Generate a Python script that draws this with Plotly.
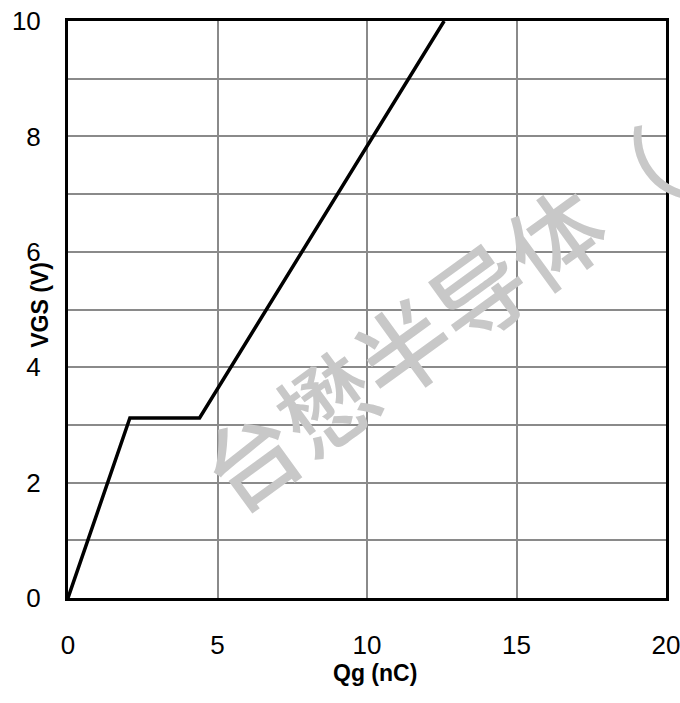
import plotly.graph_objects as go

qg = [0, 2.07, 4.4, 12.58]
vgs = [0, 3.12, 3.12, 10]
x_ticks = [0, 5, 10, 15, 20]
y_ticks = [0, 2, 4, 6, 8, 10]

FONT = "Liberation Sans, Arial, sans-serif"

fig = go.Figure()
fig.add_trace(go.Scatter(x=qg, y=vgs, mode="lines",
                         line=dict(color="black", width=3.5), showlegend=False))

fig.update_layout(
    width=680, height=703,
    margin=dict(l=68, r=14, t=21, b=105),
    plot_bgcolor="white", paper_bgcolor="white",
    font=dict(family=FONT, color="black", size=26),
    xaxis=dict(range=[0, 20], tickvals=x_ticks, ticktext=[str(v) for v in x_ticks],
               showgrid=True, gridcolor="#8a8a8a", gridwidth=1.6,
               showline=True, linecolor="black", linewidth=3, mirror=True,
               ticks="", ticklabelstandoff=22, zeroline=False, automargin=False,
               ticklabeloverflow="allow",
               tickfont=dict(size=26, family=FONT)),
    yaxis=dict(range=[0, 10], tickvals=y_ticks, ticktext=[str(v) for v in y_ticks],
               showgrid=True, gridcolor="#8a8a8a", gridwidth=1.6,
               minor=dict(dtick=1, showgrid=True, gridcolor="#8a8a8a", gridwidth=1.6),
               showline=True, linecolor="black", linewidth=3, mirror=True,
               ticks="", ticklabelstandoff=19, zeroline=False, automargin=False,
               ticklabeloverflow="allow",
               tickfont=dict(size=26, family=FONT)),
)

fig.add_annotation(text="<b>Qg (nC)</b>", x=0.513, y=-0.156, xref="paper", yref="paper",
                   showarrow=False, font=dict(size=23, family=FONT, color="black"))
fig.add_annotation(text="<b>VGS (V)</b>", x=-0.072, y=0.508, xref="paper", yref="paper",
                   showarrow=False, textangle=-90,
                   font=dict(size=23, family=FONT, color="black"))

fig.add_annotation(text="台懋半导体（", x=0.62, y=0.485, xref="paper", yref="paper",
                   showarrow=False, textangle=-36,
                   font=dict(family="Noto Sans CJK SC", size=94, color="#c8c8c8",
                             weight=500))

fig.write_html("out.html")
